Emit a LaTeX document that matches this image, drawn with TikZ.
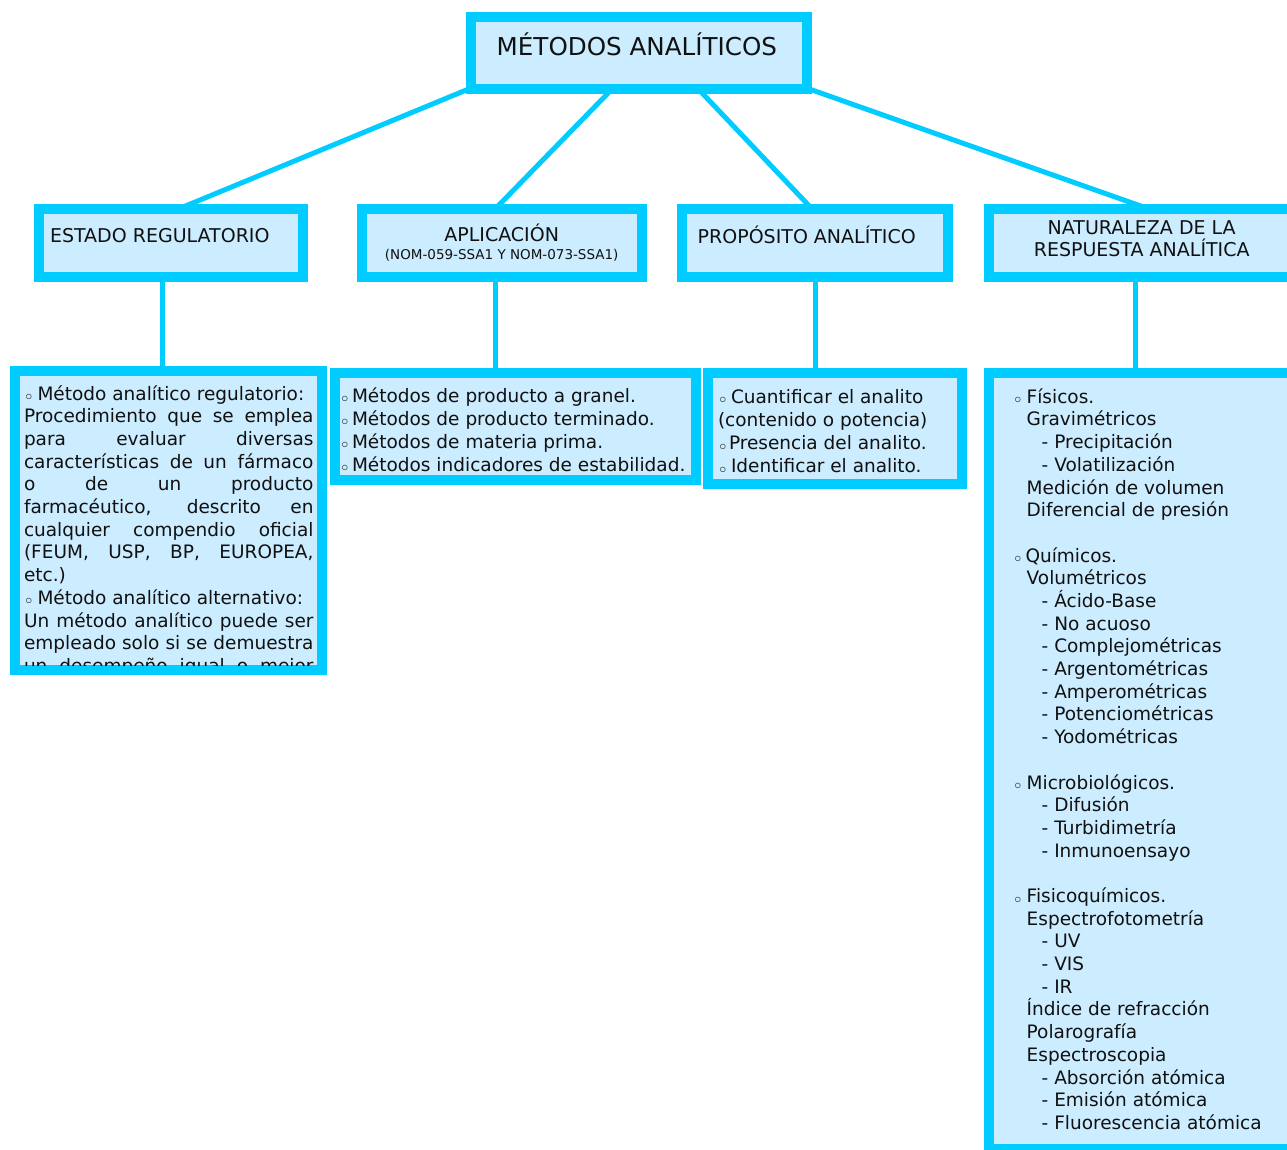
\documentclass[tikz,border=0pt]{standalone}
\usepackage{fontspec}
\setmainfont{DejaVu Sans}
\usetikzlibrary{backgrounds}
\definecolor{bord}{RGB}{0,204,255}
\definecolor{fillb}{RGB}{204,236,255}
\definecolor{txt}{RGB}{17,17,17}
\newcommand\bul[1][13pt]{\makebox[#1][l]{\raisebox{-2.6pt}{\fontsize{15}{15}\selectfont\bfseries ◦}}}
\newcommand\bodyf{\fontsize{18.5}{22.7}\selectfont}
\newcommand\jl[1]{\makebox[289.5pt][s]{#1}}
\begin{document}
\begin{tikzpicture}[x=1pt,y=-1pt,
  box/.style={draw=bord, fill=fillb, line width=10pt, inner sep=0pt, outer sep=0pt},
  conn/.style={draw=bord, line width=5pt},
  lbl/.style={inner sep=0pt, outer sep=0pt, text=txt},
  hfont/.style={font=\fontsize{19}{22}\selectfont}]
\useasboundingbox (0,0) rectangle (1287,1149);
\clip (0,0) rectangle (1287,1149);
% boxes
\node[box, minimum width=336pt, minimum height=72pt] (top) at (639,53) {};
\node[box, minimum width=264pt, minimum height=68pt] (est) at (171,243) {};
\node[box, minimum width=280pt, minimum height=68pt] (apl) at (501.7,243) {};
\node[box, minimum width=266.6pt, minimum height=68pt] (pro) at (815,243) {};
\node[box, minimum width=306pt, minimum height=68pt] (nat) at (1142,243) {};
\node[box, minimum width=307pt, minimum height=299pt] (b1) at (168.5,520.5) {};
\node[box, minimum width=360.7pt, minimum height=107.3pt] (b2) at (515.35,426.35) {};
\node[box, minimum width=253.4pt, minimum height=111.3pt] (b3) at (835,428.35) {};
\node[box, minimum width=306pt, minimum height=776pt] (b4) at (1142,761) {};
% connectors
\begin{pgfonlayer}{background}
\draw[conn] ([xshift=5pt,yshift=3pt]top.south west) -- ([yshift=-3pt]est.north);
\draw[conn] ([xshift=-24pt,yshift=3pt]top.south) -- ([xshift=-9.5pt,yshift=-3pt]apl.north);
\draw[conn] ([xshift=56.4pt,yshift=3pt]top.south) -- ([yshift=-3pt]pro.north);
\draw[conn] ([xshift=-2pt,yshift=1.5pt]top.south east) -- ([xshift=15.7pt,yshift=-3pt]nat.north);
\draw[conn] ([xshift=-9pt]est.south) -- ([xshift=-9pt]est.south |- b1.north);
\draw[conn] ([xshift=-6.7pt]apl.south) -- ([xshift=-6.7pt]apl.south |- b2.north);
\draw[conn] (pro.south) -- (pro.south |- b3.north);
\draw[conn] ([xshift=-7pt]nat.south) -- ([xshift=-7pt]nat.south |- b4.north);
\end{pgfonlayer}
% headings
\node[lbl, anchor=base west, font=\fontsize{24.6}{28}\selectfont] (ttop) at (496.7,55.7) {MÉTODOS ANALÍTICOS};
\node[lbl, anchor=base west, hfont] (test) at (50,242.7) {ESTADO REGULATORIO};
\node[lbl, anchor=base, hfont] (tapl) at (501.7,241) {APLICACIÓN};
\node[lbl, anchor=base, font=\fontsize{13.5}{15}\selectfont] (tapl2) at (501.7,259) {(NOM-059-SSA1 Y NOM-073-SSA1)};
\node[lbl, anchor=base west, hfont] (tpro) at (697.7,243.3) {PROPÓSITO ANALÍTICO};
\node[lbl, anchor=base, hfont] (tnat1) at (1141.7,234.3) {NATURALEZA DE LA};
\node[lbl, anchor=base, hfont] (tnat2) at (1141.7,256.7) {RESPUESTA ANALÍTICA};
% box 1 text (clipped)
\begin{scope}
\clip ([xshift=5pt,yshift=-5pt]b1.north west) rectangle ([xshift=-5pt,yshift=5pt]b1.south east);
\node[lbl, anchor=base west] (t1) at (24,400) {\parbox[t]{300pt}{\bodyf
\bul[13.5pt]Método analítico regulatorio:\\
\jl{Procedimiento que se emplea}\\
\jl{para evaluar diversas}\\
\jl{características de un fármaco}\\
\jl{o de un producto}\\
\jl{farmacéutico, descrito en}\\
\jl{cualquier compendio oficial}\\
\jl{(FEUM, USP, BP, EUROPEA,}\\
etc.)\\
\bul[13.5pt]Método analítico alternativo:\\
\jl{Un método analítico puede ser}\\
\jl{empleado solo si se demuestra}\\
\jl{un desempeño igual o mejor}}};
\end{scope}
% box 2 text
\node[lbl, anchor=base west] (t2) at (340,402) {\parbox[t]{360pt}{\fontsize{18.5}{23}\selectfont
\bul[12pt]Métodos de producto a granel.\\
\bul[12pt]Métodos de producto terminado.\\
\bul[12pt]Métodos de materia prima.\\
\bul[12pt]Métodos indicadores de estabilidad.}};
% box 3 text
\node[lbl, anchor=base west] (t3) at (718,403.3) {\parbox[t]{250pt}{\fontsize{18.5}{23.1}\selectfont
\bul[13pt]Cuantificar el analito\\
(contenido o potencia)\\
\bul[11pt]Presencia del analito.\\
\bul[13pt]Identificar el analito.}};
% box 4 text
\node[lbl, anchor=base west] (t4) at (1013,403.3) {\parbox[t]{280pt}{\fontsize{18.5}{22.69}\selectfont
\bul[13.7pt]Físicos.\\
\hspace*{13.7pt}Gravimétricos\\
\hspace*{28.7pt}- Precipitación\\
\hspace*{28.7pt}- Volatilización\\
\hspace*{13.7pt}Medición de volumen\\
\hspace*{13.7pt}Diferencial de presión\\[22.69pt]
\bul[12.5pt]Químicos.\\
\hspace*{13.7pt}Volumétricos\\
\hspace*{28.7pt}- Ácido-Base\\
\hspace*{28.7pt}- No acuoso\\
\hspace*{28.7pt}- Complejométricas\\
\hspace*{28.7pt}- Argentométricas\\
\hspace*{28.7pt}- Amperométricas\\
\hspace*{28.7pt}- Potenciométricas\\
\hspace*{28.7pt}- Yodométricas\\[22.69pt]
\bul[13.7pt]Microbiológicos.\\
\hspace*{28.7pt}- Difusión\\
\hspace*{28.7pt}- Turbidimetría\\
\hspace*{28.7pt}- Inmunoensayo\\[22.69pt]
\bul[13.7pt]Fisicoquímicos.\\
\hspace*{13.7pt}Espectrofotometría\\
\hspace*{28.7pt}- UV\\
\hspace*{28.7pt}- VIS\\
\hspace*{28.7pt}- IR\\
\hspace*{13.7pt}Índice de refracción\\
\hspace*{13.7pt}Polarografía\\
\hspace*{13.7pt}Espectroscopia\\
\hspace*{28.7pt}- Absorción atómica\\
\hspace*{28.7pt}- Emisión atómica\\
\hspace*{28.7pt}- Fluorescencia atómica}};
\end{tikzpicture}
\end{document}
